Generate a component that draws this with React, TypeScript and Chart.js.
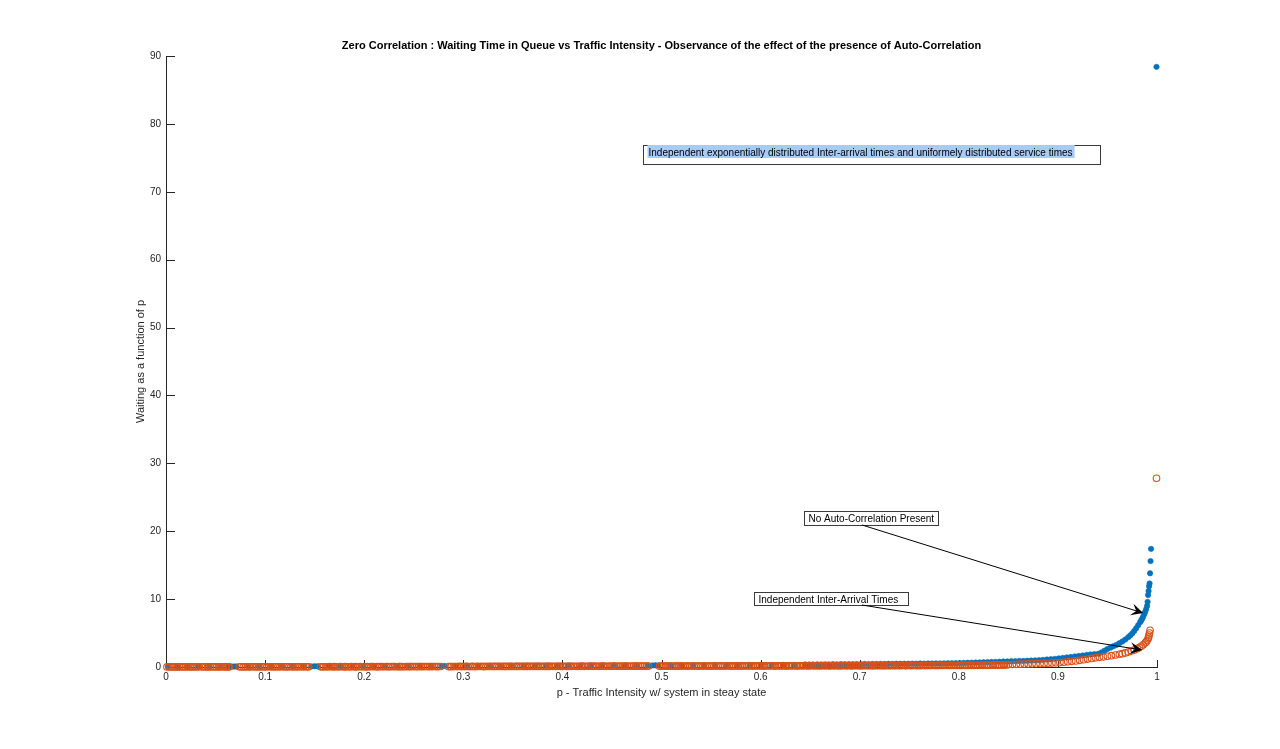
import React, { useEffect, useRef } from "react";
import { Chart, registerables } from "chart.js";

Chart.register(...registerables);

const FONT = '"Liberation Sans", Arial, Helvetica, sans-serif';
const AXIS_COLOR = "#262626";
const BLUE = "#0072BD";
const ORANGE = "#D95319";

const chartTitle =
  "Zero Correlation : Waiting Time in Queue vs Traffic Intensity - Observance of the effect of the presence of Auto-Correlation";
const xAxisTitle = "p - Traffic Intensity w/ system in steay state";
const yAxisTitle = "Waiting as a function of p";

// Series 1 (blue, filled dots): traffic intensity p and waiting time
const blueP = [
  0.002, 0.012, 0.022, 0.033, 0.044, 0.055, 0.063, 0.067, 0.069, 0.071,
  0.083, 0.094, 0.106, 0.117, 0.128, 0.139, 0.147, 0.150, 0.153, 0.165,
  0.176, 0.188, 0.199, 0.210, 0.221, 0.233, 0.244, 0.256, 0.267, 0.278,
  0.281, 0.292, 0.304, 0.315, 0.327, 0.338, 0.349, 0.361, 0.372, 0.384,
  0.395, 0.406, 0.418, 0.429, 0.440, 0.452, 0.463, 0.475, 0.486, 0.491,
  0.494, 0.497, 0.509, 0.520, 0.532, 0.543, 0.554, 0.566, 0.577, 0.589,
  0.600, 0.611, 0.623, 0.634, 0.645, 0.649, 0.653, 0.657, 0.661, 0.665,
  0.669, 0.673, 0.677, 0.681, 0.685, 0.689, 0.693, 0.697, 0.701, 0.705,
  0.709, 0.713, 0.717, 0.721, 0.725, 0.729, 0.733, 0.737, 0.741, 0.745,
  0.749, 0.753, 0.757, 0.761, 0.765, 0.769, 0.773, 0.777, 0.781, 0.785,
  0.789, 0.793, 0.797, 0.801, 0.805, 0.809, 0.813, 0.817, 0.821, 0.825,
  0.829, 0.833, 0.837, 0.841, 0.845, 0.849, 0.853, 0.857, 0.861, 0.865,
  0.869, 0.873, 0.877, 0.881, 0.885, 0.889, 0.893, 0.897, 0.901, 0.905,
  0.909, 0.913, 0.917, 0.921, 0.925, 0.929, 0.933, 0.937, 0.941, 0.944,
  0.947, 0.950, 0.953, 0.956, 0.959, 0.962, 0.965, 0.968, 0.971, 0.973,
  0.975, 0.977, 0.979, 0.981, 0.983, 0.984, 0.985, 0.986, 0.987, 0.988,
  0.989, 0.990, 0.9905, 0.991, 0.9915, 0.992, 0.9925, 0.993, 0.9935, 0.994,
  0.9995,
];
const blueW = [
  0.05, 0.06, 0.05, 0.07, 0.06, 0.08, 0.07, 0.06, 0.08, 0.07,
  0.08, 0.09, 0.08, 0.10, 0.09, 0.10, 0.09, 0.11, 0.10, 0.11,
  0.12, 0.11, 0.13, 0.12, 0.13, 0.14, 0.13, 0.15, 0.14, 0.15,
  0.16, 0.15, 0.17, 0.16, 0.18, 0.17, 0.18, 0.19, 0.18, 0.20,
  0.19, 0.21, 0.20, 0.22, 0.21, 0.23, 0.22, 0.24, 0.23, 0.24,
  0.25, 0.24, 0.26, 0.25, 0.27, 0.26, 0.28, 0.27, 0.29, 0.28,
  0.30, 0.29, 0.31, 0.30, 0.36, 0.37, 0.36, 0.38, 0.37, 0.39,
  0.38, 0.40, 0.39, 0.41, 0.40, 0.42, 0.41, 0.43, 0.42, 0.44,
  0.43, 0.45, 0.44, 0.46, 0.45, 0.47, 0.46, 0.48, 0.47, 0.49,
  0.48, 0.50, 0.49, 0.51, 0.50, 0.52, 0.51, 0.53, 0.52, 0.54,
  0.55, 0.56, 0.57, 0.58, 0.60, 0.62, 0.64, 0.66, 0.68, 0.70,
  0.72, 0.74, 0.76, 0.78, 0.80, 0.82, 0.84, 0.86, 0.88, 0.90,
  0.92, 0.95, 0.98, 1.00, 1.05, 1.10, 1.15, 1.20, 1.27, 1.34,
  1.41, 1.48, 1.55, 1.62, 1.70, 1.78, 1.85, 1.90, 1.95, 2.15,
  2.40, 2.65, 2.85, 3.05, 3.25, 3.50, 3.75, 4.05, 4.40, 4.65,
  4.95, 5.30, 5.70, 6.15, 6.60, 6.85, 7.10, 7.40, 7.75, 8.10,
  8.50, 9.00, 9.60, 10.6, 11.2, 11.9, 12.3, 13.8, 15.6, 17.4,
  88.4,
];

// Series 2 (orange, open circles): traffic intensity p and waiting time
const orangeP = [
  0.001, 0.003, 0.005, 0.007, 0.009, 0.011, 0.012, 0.014, 0.016, 0.018,
  0.020, 0.022, 0.024, 0.026, 0.027, 0.029, 0.031, 0.033, 0.036, 0.038,
  0.040, 0.042, 0.043, 0.045, 0.047, 0.049, 0.051, 0.053, 0.054, 0.056,
  0.058, 0.060, 0.061, 0.063, 0.064, 0.074, 0.076, 0.078, 0.080, 0.082,
  0.084, 0.085, 0.087, 0.089, 0.091, 0.093, 0.095, 0.097, 0.099, 0.100,
  0.102, 0.104, 0.106, 0.108, 0.110, 0.111, 0.113, 0.115, 0.117, 0.119,
  0.121, 0.122, 0.124, 0.126, 0.128, 0.130, 0.132, 0.133, 0.135, 0.137,
  0.139, 0.141, 0.143, 0.144, 0.156, 0.158, 0.159, 0.161, 0.163, 0.165,
  0.167, 0.169, 0.170, 0.172, 0.174, 0.176, 0.178, 0.180, 0.181, 0.183,
  0.185, 0.187, 0.189, 0.191, 0.192, 0.194, 0.196, 0.198, 0.200, 0.202,
  0.203, 0.205, 0.207, 0.209, 0.211, 0.213, 0.214, 0.216, 0.218, 0.220,
  0.222, 0.224, 0.225, 0.227, 0.229, 0.231, 0.233, 0.235, 0.236, 0.238,
  0.240, 0.242, 0.244, 0.246, 0.247, 0.249, 0.251, 0.253, 0.255, 0.257,
  0.258, 0.260, 0.262, 0.264, 0.266, 0.268, 0.269, 0.271, 0.273, 0.275,
  0.277, 0.285, 0.287, 0.288, 0.290, 0.292, 0.294, 0.296, 0.298, 0.299,
  0.301, 0.303, 0.305, 0.307, 0.309, 0.310, 0.312, 0.314, 0.316, 0.318,
  0.320, 0.321, 0.323, 0.325, 0.327, 0.329, 0.331, 0.332, 0.334, 0.336,
  0.338, 0.340, 0.342, 0.343, 0.345, 0.347, 0.349, 0.351, 0.353, 0.354,
  0.356, 0.358, 0.360, 0.362, 0.364, 0.365, 0.367, 0.369, 0.371, 0.373,
  0.375, 0.376, 0.378, 0.380, 0.382, 0.384, 0.386, 0.387, 0.389, 0.391,
  0.393, 0.395, 0.397, 0.398, 0.400, 0.402, 0.404, 0.406, 0.408, 0.409,
  0.411, 0.413, 0.415, 0.417, 0.419, 0.420, 0.422, 0.424, 0.426, 0.428,
  0.430, 0.431, 0.433, 0.435, 0.437, 0.439, 0.441, 0.442, 0.444, 0.446,
  0.448, 0.450, 0.452, 0.453, 0.455, 0.457, 0.459, 0.461, 0.463, 0.464,
  0.466, 0.468, 0.470, 0.472, 0.474, 0.475, 0.477, 0.479, 0.481, 0.483,
  0.485, 0.487, 0.498, 0.500, 0.502, 0.504, 0.505, 0.507, 0.509, 0.511,
  0.513, 0.515, 0.516, 0.518, 0.520, 0.522, 0.524, 0.526, 0.527, 0.529,
  0.531, 0.533, 0.535, 0.537, 0.538, 0.540, 0.542, 0.544, 0.546, 0.548,
  0.549, 0.551, 0.553, 0.555, 0.557, 0.559, 0.560, 0.562, 0.564, 0.566,
  0.568, 0.570, 0.571, 0.573, 0.575, 0.577, 0.579, 0.581, 0.582, 0.584,
  0.586, 0.588, 0.590, 0.592, 0.593, 0.595, 0.597, 0.599, 0.601, 0.603,
  0.604, 0.606, 0.608, 0.610, 0.612, 0.614, 0.615, 0.617, 0.619, 0.621,
  0.623, 0.625, 0.626, 0.628, 0.630, 0.632, 0.634, 0.636, 0.637, 0.639,
  0.641, 0.643, 0.645, 0.647, 0.648, 0.650, 0.652, 0.654, 0.656, 0.658,
  0.659, 0.661, 0.663, 0.665, 0.667, 0.669, 0.670, 0.672, 0.674, 0.676,
  0.678, 0.680, 0.681, 0.683, 0.685, 0.687, 0.689, 0.691, 0.692, 0.694,
  0.696, 0.698, 0.700, 0.702, 0.703, 0.705, 0.707, 0.709, 0.711, 0.713,
  0.714, 0.716, 0.718, 0.720, 0.722, 0.724, 0.725, 0.727, 0.729, 0.731,
  0.733, 0.735, 0.736, 0.738, 0.740, 0.742, 0.744, 0.746, 0.747, 0.749,
  0.751, 0.753, 0.755, 0.757, 0.758, 0.760, 0.762, 0.764, 0.766, 0.768,
  0.769, 0.771, 0.773, 0.775, 0.777, 0.779, 0.780, 0.782, 0.784, 0.786,
  0.788, 0.790, 0.791, 0.793, 0.795, 0.797, 0.799, 0.801, 0.802, 0.804,
  0.806, 0.808, 0.810, 0.812, 0.813, 0.815, 0.817, 0.819, 0.821, 0.823,
  0.824, 0.826, 0.828, 0.830, 0.832, 0.834, 0.835, 0.837, 0.839, 0.841,
  0.843, 0.845, 0.846, 0.848, 0.850, 0.854, 0.858, 0.862, 0.866, 0.870,
  0.874, 0.878, 0.882, 0.886, 0.890, 0.894, 0.898, 0.902, 0.906, 0.910,
  0.914, 0.918, 0.922, 0.926, 0.930, 0.934, 0.938, 0.942, 0.946, 0.950,
  0.954, 0.958, 0.962, 0.965, 0.968, 0.971, 0.974, 0.977, 0.980, 0.982,
  0.984, 0.986, 0.988, 0.989, 0.990, 0.991, 0.9915, 0.992, 0.9925, 0.993,
  0.9995,
];
const orangeW = [
  0.01, 0.02, 0.00, 0.01, 0.02, 0.01, 0.00, 0.02, 0.01, 0.03,
  0.01, 0.02, 0.01, 0.00, 0.03, 0.02, 0.01, 0.02, 0.03, 0.01,
  0.02, 0.03, 0.01, 0.02, 0.03, 0.02, 0.01, 0.03, 0.02, 0.03,
  0.02, 0.01, 0.03, 0.02, 0.03, 0.02, 0.03, 0.01, 0.03, 0.02,
  0.03, 0.02, 0.04, 0.02, 0.03, 0.01, 0.03, 0.02, 0.04, 0.03,
  0.02, 0.04, 0.03, 0.02, 0.03, 0.04, 0.02, 0.03, 0.04, 0.03,
  0.04, 0.02, 0.03, 0.04, 0.03, 0.02, 0.04, 0.03, 0.04, 0.03,
  0.02, 0.04, 0.03, 0.04, 0.03, 0.04, 0.02, 0.04, 0.03, 0.05,
  0.04, 0.03, 0.05, 0.04, 0.03, 0.05, 0.04, 0.03, 0.05, 0.04,
  0.03, 0.05, 0.04, 0.05, 0.03, 0.04, 0.05, 0.04, 0.05, 0.03,
  0.05, 0.04, 0.05, 0.06, 0.04, 0.05, 0.04, 0.06, 0.05, 0.04,
  0.06, 0.05, 0.04, 0.06, 0.05, 0.06, 0.04, 0.05, 0.06, 0.05,
  0.04, 0.06, 0.05, 0.06, 0.05, 0.07, 0.05, 0.06, 0.05, 0.07,
  0.06, 0.05, 0.07, 0.06, 0.05, 0.07, 0.06, 0.07, 0.05, 0.06,
  0.07, 0.06, 0.05, 0.07, 0.06, 0.07, 0.06, 0.08, 0.06, 0.07,
  0.06, 0.08, 0.07, 0.06, 0.08, 0.07, 0.06, 0.08, 0.07, 0.08,
  0.07, 0.06, 0.08, 0.07, 0.09, 0.07, 0.08, 0.07, 0.09, 0.08,
  0.07, 0.09, 0.08, 0.07, 0.09, 0.08, 0.09, 0.07, 0.08, 0.09,
  0.08, 0.10, 0.08, 0.09, 0.08, 0.10, 0.09, 0.08, 0.10, 0.09,
  0.08, 0.10, 0.09, 0.10, 0.08, 0.09, 0.10, 0.09, 0.11, 0.09,
  0.10, 0.09, 0.11, 0.10, 0.09, 0.11, 0.10, 0.09, 0.11, 0.10,
  0.11, 0.10, 0.09, 0.11, 0.10, 0.12, 0.10, 0.11, 0.10, 0.12,
  0.11, 0.10, 0.12, 0.11, 0.10, 0.12, 0.11, 0.12, 0.10, 0.11,
  0.12, 0.11, 0.13, 0.11, 0.12, 0.11, 0.13, 0.12, 0.11, 0.13,
  0.12, 0.11, 0.13, 0.12, 0.13, 0.11, 0.12, 0.13, 0.12, 0.14,
  0.12, 0.13, 0.12, 0.14, 0.13, 0.12, 0.14, 0.13, 0.12, 0.14,
  0.13, 0.14, 0.12, 0.14, 0.13, 0.15, 0.13, 0.14, 0.13, 0.15,
  0.14, 0.13, 0.15, 0.14, 0.13, 0.15, 0.14, 0.15, 0.13, 0.14,
  0.15, 0.14, 0.16, 0.14, 0.15, 0.14, 0.16, 0.15, 0.14, 0.16,
  0.15, 0.14, 0.16, 0.15, 0.16, 0.14, 0.15, 0.16, 0.15, 0.17,
  0.15, 0.16, 0.15, 0.17, 0.16, 0.15, 0.17, 0.16, 0.15, 0.17,
  0.16, 0.17, 0.15, 0.17, 0.16, 0.18, 0.16, 0.17, 0.16, 0.18,
  0.17, 0.16, 0.18, 0.17, 0.16, 0.18, 0.17, 0.18, 0.16, 0.17,
  0.18, 0.17, 0.19, 0.17, 0.18, 0.17, 0.19, 0.18, 0.17, 0.19,
  0.18, 0.17, 0.19, 0.18, 0.19, 0.17, 0.18, 0.19, 0.18, 0.20,
  0.18, 0.19, 0.18, 0.20, 0.19, 0.18, 0.20, 0.19, 0.18, 0.20,
  0.19, 0.20, 0.18, 0.20, 0.19, 0.21, 0.19, 0.20, 0.19, 0.21,
  0.20, 0.19, 0.21, 0.20, 0.19, 0.21, 0.20, 0.21, 0.19, 0.20,
  0.21, 0.20, 0.22, 0.20, 0.21, 0.20, 0.22, 0.21, 0.20, 0.22,
  0.21, 0.20, 0.22, 0.21, 0.22, 0.20, 0.21, 0.22, 0.21, 0.23,
  0.22, 0.21, 0.23, 0.22, 0.21, 0.23, 0.22, 0.23, 0.22, 0.24,
  0.23, 0.22, 0.24, 0.23, 0.24, 0.22, 0.23, 0.24, 0.23, 0.25,
  0.24, 0.23, 0.25, 0.24, 0.25, 0.24, 0.26, 0.25, 0.24, 0.26,
  0.25, 0.27, 0.26, 0.27, 0.26, 0.28, 0.27, 0.28, 0.27, 0.29,
  0.28, 0.30, 0.29, 0.31, 0.35, 0.37, 0.39, 0.41, 0.43, 0.45,
  0.47, 0.49, 0.51, 0.53, 0.55, 0.58, 0.61, 0.65, 0.70, 0.76,
  0.83, 0.90, 0.98, 1.07, 1.17, 1.27, 1.35, 1.42, 1.50, 1.58,
  1.67, 1.77, 1.88, 1.97, 2.08, 2.20, 2.34, 2.50, 2.70, 2.86,
  3.05, 3.27, 3.52, 3.70, 3.90, 4.15, 4.40, 4.70, 5.00, 5.40,
  27.8,
];

// Axis ranges / ticks
const xMin = 0;
const xMax = 1;
const xStep = 0.1;
const yMin = 0;
const yMax = 90;
const yStep = 10;

// Text boxes (anchored in data coordinates: left / top)
const noteTexts = [
  "Independent exponentially distributed Inter-arrival times and uniformely distributed service times",
  "No Auto-Correlation Present",
  "Independent Inter-Arrival Times",
];
const noteLeftP = [0.4813, 0.6438, 0.5933];
const noteTopW = [76.9, 22.98, 11.05];
const noteBoxW = [457, 134, 154];
const noteBoxH = [19, 14, 13];
const noteHighlight = [true, false, false];

// Arrows (data coordinates)
const arrowFromP = [0.7023, 0.7023];
const arrowFromW = [20.92, 9.13];
const arrowToP = [0.986, 0.985];
const arrowToW = [7.95, 2.5];

const decorPlugin = {
  id: "matlabDecor",
  beforeDatasetsDraw(chart: any) {
    const ctx = chart.ctx;
    const { left, bottom } = chart.chartArea;
    const xs = chart.scales.x;
    const ys = chart.scales.y;
    ctx.save();
    ctx.strokeStyle = AXIS_COLOR;
    ctx.lineWidth = 1;
    ctx.beginPath();
    xs.ticks.forEach((t: any) => {
      const px = Math.round(xs.getPixelForValue(t.value)) + 0.5;
      ctx.moveTo(px, bottom);
      ctx.lineTo(px, bottom - 7);
    });
    ys.ticks.forEach((t: any) => {
      const py = Math.round(ys.getPixelForValue(t.value)) + 0.5;
      ctx.moveTo(left, py);
      ctx.lineTo(left + 9, py);
    });
    ctx.stroke();
    ctx.restore();
  },
  afterDraw(chart: any) {
    const ctx = chart.ctx;
    const { left, right, top, bottom } = chart.chartArea;
    const xs = chart.scales.x;
    const ys = chart.scales.y;
    const cx = (left + right) / 2;
    ctx.save();
    // Title
    ctx.fillStyle = "#000";
    ctx.font = `bold 11px ${FONT}`;
    ctx.textAlign = "center";
    ctx.textBaseline = "alphabetic";
    ctx.fillText(chartTitle, cx, top - 7);
    // X axis title
    ctx.fillStyle = AXIS_COLOR;
    ctx.font = `11px ${FONT}`;
    ctx.fillText(xAxisTitle, cx, bottom + 29);
    // Y axis title
    ctx.save();
    ctx.translate(left - 25, (top + bottom) / 2);
    ctx.rotate(-Math.PI / 2);
    ctx.textBaseline = "middle";
    ctx.fillText(yAxisTitle, 0, 0);
    ctx.restore();

    // Text boxes
    ctx.font = `10px ${FONT}`;
    ctx.textAlign = "left";
    ctx.textBaseline = "alphabetic";
    noteTexts.forEach((txt, i) => {
      const bx = Math.round(xs.getPixelForValue(noteLeftP[i])) + 0.5;
      const by = Math.round(ys.getPixelForValue(noteTopW[i])) + 0.5;
      ctx.strokeStyle = "#3a3a3a";
      ctx.lineWidth = 1;
      ctx.strokeRect(bx, by, noteBoxW[i], noteBoxH[i]);
      const tw = ctx.measureText(txt).width;
      if (noteHighlight[i]) {
        ctx.fillStyle = "#a8cbf4";
        ctx.fillRect(bx + 4, by - 0.5, tw + 3, 13);
      }
      ctx.fillStyle = "#000";
      ctx.fillText(txt, bx + (noteHighlight[i] ? 5 : 4), by + 10);
    });

    // Arrows
    arrowFromP.forEach((_, i) => {
      const x1 = xs.getPixelForValue(arrowFromP[i]);
      const y1 = ys.getPixelForValue(arrowFromW[i]);
      const x2 = xs.getPixelForValue(arrowToP[i]);
      const y2 = ys.getPixelForValue(arrowToW[i]);
      const ang = Math.atan2(y2 - y1, x2 - x1);
      const ux = Math.cos(ang);
      const uy = Math.sin(ang);
      const nx = -uy;
      const ny = ux;
      const L = 12;
      const W = 6;
      ctx.strokeStyle = "#000";
      ctx.lineWidth = 1;
      ctx.beginPath();
      ctx.moveTo(x1, y1);
      ctx.lineTo(x2 - ux * 4, y2 - uy * 4);
      ctx.stroke();
      ctx.fillStyle = "#000";
      ctx.beginPath();
      ctx.moveTo(x2, y2);
      ctx.lineTo(x2 - ux * L + nx * W, y2 - uy * L + ny * W);
      ctx.lineTo(x2 - ux * L * 0.6, y2 - uy * L * 0.6);
      ctx.lineTo(x2 - ux * L - nx * W, y2 - uy * L - ny * W);
      ctx.closePath();
      ctx.fill();
    });
    ctx.restore();
  },
};

export default function App() {
  const canvasRef = useRef<HTMLCanvasElement | null>(null);

  useEffect(() => {
    const canvas = canvasRef.current;
    if (!canvas) return;
    const blueData = blueP.map((p, i) => ({ x: p, y: blueW[i] }));
    const orangeData = orangeP.map((p, i) => ({ x: p, y: orangeW[i] }));
    const chart = new Chart(canvas, {
      type: "scatter",
      data: {
        datasets: [
          {
            label: "Independent Inter-Arrival Times",
            data: orangeData,
            pointStyle: "circle",
            pointRadius: 3.3,
            pointBorderWidth: 1.1,
            borderColor: ORANGE,
            backgroundColor: "rgba(0,0,0,0)",
            showLine: false,
            clip: false as any,
            order: 0,
          },
          {
            label: "No Auto-Correlation Present",
            data: blueData,
            pointStyle: "circle",
            pointRadius: 2.7,
            pointBorderWidth: 0.6,
            borderColor: BLUE,
            backgroundColor: BLUE,
            showLine: false,
            clip: false as any,
            order: 1,
          },
        ],
      },
      options: {
        responsive: false,
        animation: false,
        events: [],
        layout: { padding: { left: 116, right: 123, top: 56, bottom: 52 } },
        plugins: {
          legend: { display: false },
          tooltip: { enabled: false },
          title: { display: false },
        },
        scales: {
          x: {
            type: "linear",
            min: xMin,
            max: xMax,
            grid: { display: false, drawTicks: false },
            border: { display: true, color: AXIS_COLOR, width: 1 },
            ticks: {
              stepSize: xStep,
              color: AXIS_COLOR,
              padding: 4,
              maxRotation: 0,
              autoSkip: false,
              font: { family: FONT, size: 10 },
              callback: (v: any) => String(Number(Number(v).toFixed(1))),
            },
            afterFit: (s: any) => {
              s.height = 30;
            },
          },
          y: {
            type: "linear",
            min: yMin,
            max: yMax,
            grid: { display: false, drawTicks: false },
            border: { display: true, color: AXIS_COLOR, width: 1 },
            ticks: {
              stepSize: yStep,
              color: AXIS_COLOR,
              padding: 5,
              autoSkip: false,
              font: { family: FONT, size: 10 },
            },
            afterFit: (s: any) => {
              s.width = 50;
            },
          },
        },
      },
      plugins: [decorPlugin],
    });
    return () => chart.destroy();
  }, []);

  return (
    <div style={{ position: "fixed", left: 0, top: 0, width: 1280, height: 749, background: "#fff" }}>
      <canvas ref={canvasRef} width={1280} height={749} style={{ width: 1280, height: 749, display: "block" }} />
    </div>
  );
}
